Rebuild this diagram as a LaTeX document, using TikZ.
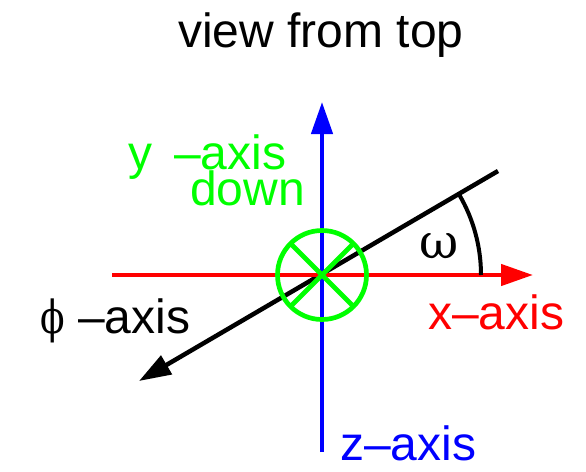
\documentclass[tikz,border=0pt]{standalone}
\usepackage{graphicx}
\usepackage{fontspec}
\setmainfont{Liberation Sans}
\newfontfamily\grk{DejaVu Serif}
\usetikzlibrary{arrows.meta}
\definecolor{brgreen}{rgb}{0,1,0}
\begin{document}
\begin{tikzpicture}[x=1pt,y=-1pt,
  lbl/.style={inner sep=0pt,anchor=base west,font=\fontsize{48}{48}\selectfont},
  axisline/.style={line width=4.5pt},
  bighead/.style={-{Triangle[length=32pt,width=21pt]}}]
\useasboundingbox (0,0) rectangle (586,471);
\coordinate (O) at (322,275);
% phi axis
\coordinate (ps) at (498,171);
\coordinate (pe) at (139,381);
\draw[axisline,black,bighead] (ps) -- (pe);
% x axis
\coordinate (xs) at (112,275);
\coordinate (xe) at (533,275);
\draw[axisline,red,bighead] (xs) -- (xe);
% z axis
\coordinate (zs) at (322,452);
\coordinate (ze) at (322,102);
\draw[axisline,blue,bighead] (zs) -- (ze);
% angle omega
\draw[line width=4pt,black] (O) ++(0:159) arc[start angle=0,end angle=-30.4,radius=159];
% y axis symbol
\coordinate (c1) at (353.5,243.5);
\coordinate (c2) at (290.5,306.5);
\coordinate (c3) at (290.5,243.5);
\coordinate (c4) at (353.5,306.5);
\draw[line width=4.7pt,brgreen] (O) circle[radius=44.5];
\draw[line width=4.7pt,brgreen] (c1) -- (c2) (c3) -- (c4);
% labels
\node[lbl,anchor=base] (title) at (321,47) {view from top};
\node[lbl,text=brgreen] (ylab) at (128,169) {y};
\node[lbl,text=brgreen] (ylab2) at (174,169) {–axis};
\node[lbl,text=brgreen] (down) at (190,205) {down};
\node[lbl,text=red] (xlab) at (428,329) {x–axis};
\node[lbl,text=blue] (zlab) at (340,460) {z–axis};
\node[lbl] (phi) at (40,333) {\grk\scalebox{0.75}[0.95]{ϕ}};
\node[lbl] (philab) at (78,333) {–axis};
\node[lbl] (om) at (419,258) {\grk ω};
\end{tikzpicture}
\end{document}
